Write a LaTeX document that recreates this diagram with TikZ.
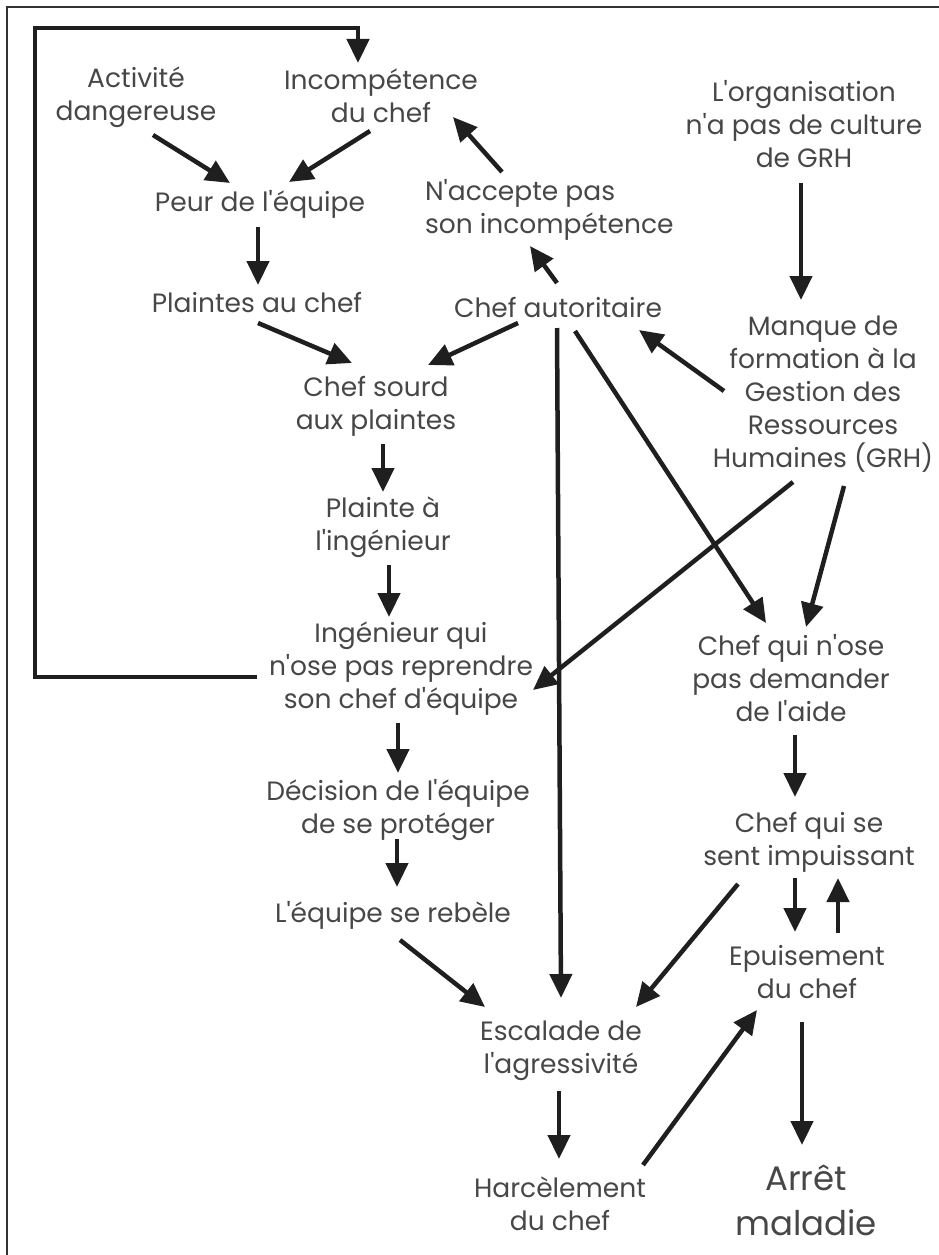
\documentclass[tikz,border=0pt]{standalone}
\usepackage{fontspec}
\setmainfont{Poppins}[Ligatures=TeXOff]
\usetikzlibrary{arrows.meta,calc}
\begin{document}
\begin{tikzpicture}[x=1pt,y=-1pt,
  lbl/.style={inner sep=0pt,outer sep=0pt,anchor=base,align=center,text=black!72,
    font=\fontsize{26.5}{33}\selectfont},
  big/.style={lbl,font=\fontsize{34}{45}\selectfont},
  arr/.style={draw=black!88,line width=4.5pt,-{Triangle[length=24pt,width=22pt]}},
  frame/.style={draw=black!80,line width=2.2pt}]
\useasboundingbox (0,0) rectangle (939,1255);
\draw[frame] (7,1260) -- (7,7) -- (945,7);

\node[lbl] (act) at (136,120) {Activité\\dangereuse};
\node[lbl] (inc) at (381,122) {Incompétence\\du chef};
\node[lbl] (org) at (804,167) {L'organisation\\n'a pas de culture\\de GRH};
\node[lbl] (peur) at (260,211) {Peur de l'équipe};
\node[lbl,anchor=base west,align=left] (nacc) at (425,233) {N'accepte pas\\son incompétence};
\node[lbl] (plai) at (257,312) {Plaintes au chef};
\node[lbl] (aut) at (558,317) {Chef autoritaire};
\node[lbl] (manq) at (823,467) {Manque de\\formation à la\\Gestion des\\Ressources\\Humaines (GRH)};
\node[lbl] (sourd) at (376,429) {Chef sourd\\aux plaintes};
\node[lbl] (plai2) at (383,550) {Plainte à\\l'ingénieur};
\node[lbl] (ing) at (401,708) {Ingénieur qui\\n'ose pas reprendre\\son chef d'équipe};
\node[lbl] (nose) at (791,721) {Chef qui n'ose\\pas demander\\de l'aide};
\node[lbl] (dec) at (398,833) {Décision de l'équipe\\de se protéger};
\node[lbl] (sent) at (809,865) {Chef qui se\\sent impuissant};
\node[lbl] (reb) at (393,922) {L'équipe se rebèle};
\node[lbl] (epu) at (807,998) {Epuisement\\du chef};
\node[lbl] (esc) at (561,1073) {Escalade de\\l'agressivité};
\node[lbl] (harc) at (560,1230) {Harcèlement\\du chef};
\node[big] (arr) at (806,1235) {Arrêt\\maladie};

% feedback loop
\draw[arr] ($(ing.base)+(-144,-31)$) -- ++(-222,0) |- ($(inc.base)+(-23,-94)$) -- ($(inc.base)+(-23,-59)$);

\draw[arr] ($(act.base)+(17,15)$) -- ($(peur.base)+(-30,-28)$);
\draw[arr] ($(inc.base)+(-11,9)$) -- ($(peur.base)+(29,-29)$);
\draw[arr] ($(peur.base)+(-2,16)$) -- ($(plai.base)+(1,-27)$);
\draw[arr] ($(nacc.base west)+(77,-61)$) -- ($(inc.base)+(72,-5)$);
\draw[arr] ($(aut.base)+(-1,-34)$) -- ($(nacc.base west)+(105,13)$);
\draw[arr] ($(org.base)+(-3,16)$) -- ($(manq.base)+(-22,-167)$);
\draw[arr] ($(plai.base)+(1,11)$) -- ($(sourd.base)+(-24,-66)$);
\draw[arr] ($(aut.base)+(-40,6)$) -- ($(sourd.base)+(52,-64)$);
\draw[arr] ($(manq.base)+(-99,-76)$) -- ($(aut.base)+(81,13)$);
\draw[arr] ($(aut.base)+(17,14)$) -- ($(nose.base)+(-25,-98)$);
\draw[arr] ($(aut.base)+(-1,11)$) -- ($(esc.base)+(0,-75)$);
\draw[arr] ($(manq.base)+(-30,15)$) -- ($(ing.base)+(132,-18)$);
\draw[arr] ($(manq.base)+(21,19)$) -- ($(nose.base)+(15,-94)$);
\draw[arr] ($(sourd.base)+(7,15)$) -- ($(plai2.base)+(0,-58)$);
\draw[arr] ($(plai2.base)+(6,15)$) -- ($(ing.base)+(-12,-91)$);
\draw[arr] ($(ing.base)+(-3,15)$) -- ($(dec.base)+(0,-60)$);
\draw[arr] ($(dec.base)+(-1,6)$) -- ($(reb.base)+(4,-35)$);
\draw[arr] ($(reb.base)+(7,18)$) -- ($(esc.base)+(-76,-66)$);
\draw[arr] ($(nose.base)+(4,14)$) -- ($(sent.base)+(-14,-68)$);
\draw[arr] ($(sent.base)+(-71,19)$) -- ($(esc.base)+(75,-66)$);
\draw[arr] ($(sent.base)+(-14,13)$) -- ($(epu.base)+(-12,-66)$);
\draw[arr] ($(epu.base)+(31,-65)$) -- ($(sent.base)+(29,13)$);
\draw[arr] ($(esc.base)+(-2,18)$) -- ($(harc.base)+(-1,-71)$);
\draw[arr] ($(harc.base)+(83,-65)$) -- ($(epu.base)+(-50,12)$);
\draw[arr] ($(epu.base)+(-5,24)$) -- ($(arr.base)+(-4,-90)$);
\end{tikzpicture}
\end{document}
